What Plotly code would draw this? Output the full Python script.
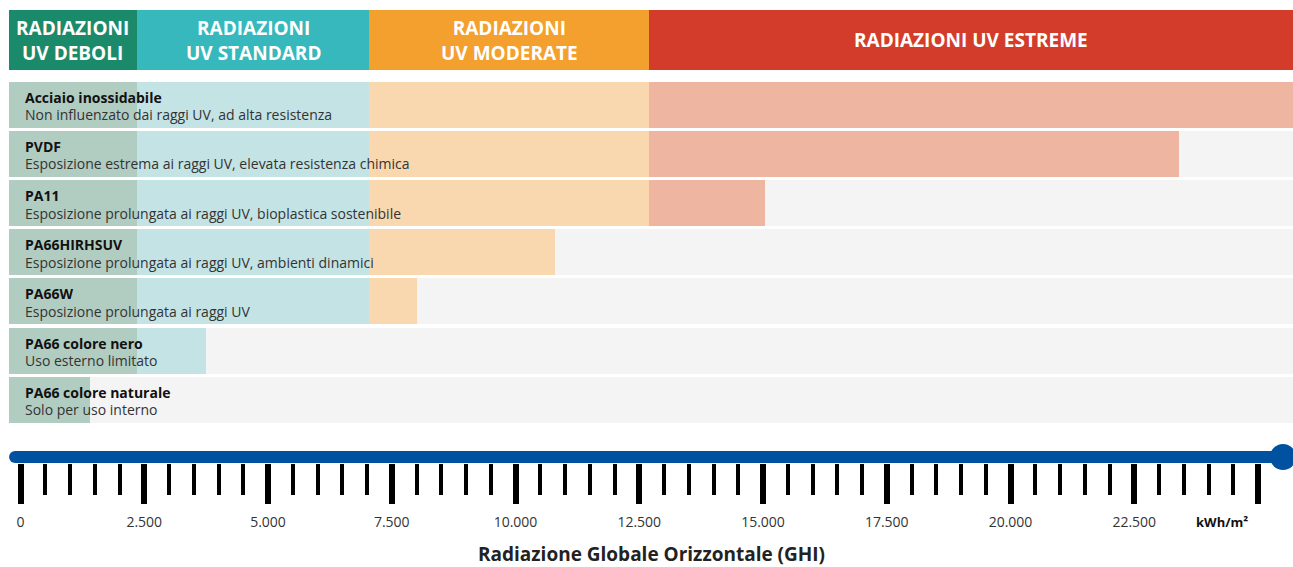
import plotly.graph_objects as go

# ---------------- data ----------------
materials = ["Acciaio inossidabile", "PVDF", "PA11", "PA66HIRHSUV", "PA66W",
             "PA66 colore nero", "PA66 colore naturale"]
descriptions = ["Non influenzato dai raggi UV, ad alta resistenza",
                "Esposizione estrema ai raggi UV, elevata resistenza chimica",
                "Esposizione prolungata ai raggi UV, bioplastica sostenibile",
                "Esposizione prolungata ai raggi UV, ambienti dinamici",
                "Esposizione prolungata ai raggi UV",
                "Uso esterno limitato",
                "Solo per uso interno"]
max_ghi = [26000, 23400, 15050, 10800, 8000, 3750, 1400]

band_labels = ["RADIAZIONI<br>UV DEBOLI", "RADIAZIONI<br>UV STANDARD",
               "RADIAZIONI<br>UV MODERATE", "RADIAZIONI UV ESTREME"]
band_edges = [-232, 2350, 7050, 12700, 25710]
band_colors = ["#1B8A6B", "#36B8BC", "#F4A02E", "#D33C2B"]
band_light = ["#B1CCC1", "#C4E3E5", "#F9D8B0", "#EEB5A1"]

tick_vals = [0, 2500, 5000, 7500, 10000, 12500, 15000, 17500, 20000, 22500, 25000]
tick_labels = ["0", "2.500", "5.000", "7.500", "10.000", "12.500", "15.000",
               "17.500", "20.000", "22.500", ""]
minor_vals = [v for v in range(500, 25000, 500) if v % 2500 != 0]
unit_label = "kWh/m²"
axis_title = "Radiazione Globale Orizzontale (GHI)"

# ---------------- layout constants ----------------
W, H = 1293, 567
X_RANGE = [-414.1, 25707]
Y_RANGE = [9.402, -2.1293]
ROW_W = 0.9355
HEAD_Y, HEAD_W = -1.311, 1.230
AXIS_Y = 7.165
AXIS_START, AXIS_END = -110, 25505
FONT = "Open Sans"
BLUE = "#00519F"

n = len(materials)
rows = list(range(n))

fig = go.Figure()

# row backgrounds
fig.add_trace(go.Bar(orientation="h", y=rows, base=[band_edges[0]] * n,
                     x=[band_edges[-1] - band_edges[0]] * n, width=ROW_W,
                     marker=dict(color="#F4F4F4", line_width=0),
                     hoverinfo="skip", showlegend=False))

# coloured segments per band
for b in range(len(band_labels)):
    lo, hi = band_edges[b], band_edges[b + 1]
    ys, bases, lens = [], [], []
    for i, v in enumerate(max_ghi):
        end = min(v, hi)
        if end > lo:
            ys.append(i); bases.append(lo); lens.append(end - lo)
    fig.add_trace(go.Bar(orientation="h", y=ys, base=bases, x=lens, width=ROW_W,
                         marker=dict(color=band_light[b], line_width=0),
                         hoverinfo="skip", showlegend=False))

# header bands
for b in range(len(band_labels)):
    lo, hi = band_edges[b], band_edges[b + 1]
    fig.add_trace(go.Bar(orientation="h", y=[HEAD_Y], base=[lo], x=[hi - lo],
                         width=HEAD_W, marker=dict(color=band_colors[b], line_width=0),
                         hoverinfo="skip", showlegend=False))
    fig.add_annotation(x=(lo + hi) / 2, y=HEAD_Y, text=band_labels[b], showarrow=False,
                       font=dict(family=FONT, size=19, color="white", weight="bold"),
                       xanchor="center", yanchor="middle")

# axis line with end circle
fig.add_trace(go.Scatter(x=[AXIS_START, AXIS_END], y=[AXIS_Y, AXIS_Y], mode="lines+markers",
                         line=dict(color=BLUE, width=12),
                         marker=dict(color=BLUE, size=[12, 26], opacity=1, line_width=0),
                         hoverinfo="skip", showlegend=False, cliponaxis=False))

# row texts
for i in rows:
    fig.add_annotation(xref="paper", x=23 / W, y=i, yshift=7.5, text=materials[i],
                       showarrow=False, xanchor="left", yanchor="middle",
                       font=dict(family=FONT, size=14, color="#111111", weight="bold"))
    fig.add_annotation(xref="paper", x=23 / W, y=i, yshift=-10, text=descriptions[i],
                       showarrow=False, xanchor="left", yanchor="middle",
                       font=dict(family=FONT, size=14, color="#333333"))

fig.add_annotation(x=24270, y=1 - 521.5 / H, yref="paper", text=unit_label, showarrow=False,
                   xanchor="center", yanchor="middle",
                   font=dict(family=FONT, size=13, color="#111111", weight="bold"))
fig.add_annotation(xref="paper", yref="paper", x=651 / W, y=1 - 554 / H, text=axis_title,
                   showarrow=False, xanchor="center", yanchor="middle",
                   font=dict(family=FONT, size=19, color="#222222", weight="bold"))

fig.update_layout(
    width=W, height=H, margin=dict(l=0, r=0, t=0, b=0),
    plot_bgcolor="white", paper_bgcolor="white", barmode="overlay", bargap=0,
    showlegend=False,
    xaxis=dict(range=X_RANGE, showgrid=False, zeroline=False, showline=False,
               anchor="free", position=1 - 463 / H, automargin=False,
               tickmode="array", tickvals=tick_vals, ticktext=tick_labels,
               ticks="outside", ticklen=40, tickwidth=6, tickcolor="black",
               ticklabelstandoff=6,
               tickfont=dict(family=FONT, size=14, color="#333333"),
               minor=dict(tickmode="array", tickvals=minor_vals, ticks="outside",
                          ticklen=31, tickwidth=4, tickcolor="black", showgrid=False),
               fixedrange=True),
    yaxis=dict(range=Y_RANGE, visible=False, showgrid=False, zeroline=False,
               automargin=False, fixedrange=True),
)

fig.write_html("out.html", post_script="document.body.style.margin='0';",
               config={"displayModeBar": False})
